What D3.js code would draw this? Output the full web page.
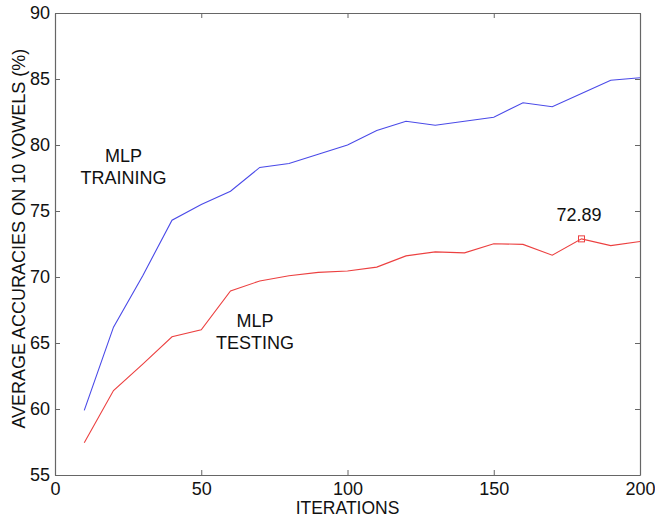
<!DOCTYPE html>
<meta charset="utf-8">
<style>
body { margin: 0; background: #fff; }
text { font-family: "Liberation Sans", Arial, sans-serif; fill: #111; }
.axis path, .axis line { stroke: #666; }
</style>
<svg width="655" height="518"></svg>
<script src="https://d3js.org/d3.v7.min.js"></script>
<script>

// Data
var iterations = [10, 20, 30, 40, 50, 60, 70, 80, 90, 100, 110, 120, 130, 140, 150, 160, 170, 180, 190, 200];
var training = [59.9, 66.2, 70.1, 74.3, 75.5, 76.5, 78.3, 78.6, 79.3, 80.0, 81.1, 81.8, 81.5, 81.8, 82.1, 83.2, 82.9, 83.9, 84.9, 85.1];
var testing = [57.45, 61.4, 63.4, 65.47, 66.0, 68.95, 69.7, 70.1, 70.35, 70.45, 70.75, 71.6, 71.9, 71.83, 72.52, 72.47, 71.65, 72.89, 72.38, 72.69];
var xTicks = [0, 50, 100, 150, 200];
var yTicks = [55, 60, 65, 70, 75, 80, 85, 90];
var peakIndex = 17;

var svg = d3.select("svg"),
    margin = {top: 13, right: 15, bottom: 43, left: 55},
    width = 655 - margin.left - margin.right,
    height = 518 - margin.top - margin.bottom;

var fs = 18;

var x = d3.scaleLinear().domain([0, 200]).range([margin.left, margin.left + width]);
var y = d3.scaleLinear().domain([55, 90]).range([margin.top + height, margin.top]);

// Box with inward ticks on all four sides
svg.append("g").attr("class", "axis")
    .attr("transform", "translate(0," + y(55) + ")")
    .call(d3.axisBottom(x).tickValues(xTicks).tickSize(-5).tickPadding(7).tickSizeOuter(0))
    .call(function(g) { g.selectAll("text").attr("font-size", fs).attr("dy", "0.7em"); });

svg.append("g").attr("class", "axis")
    .attr("transform", "translate(0," + y(90) + ")")
    .call(d3.axisTop(x).tickValues(xTicks).tickSize(-5).tickFormat("").tickSizeOuter(0))
    .call(function(g) { g.select(".domain").attr("stroke", "#999"); });

svg.append("g").attr("class", "axis")
    .attr("transform", "translate(" + x(0) + ",0)")
    .call(d3.axisLeft(y).tickValues(yTicks).tickSize(-5).tickPadding(5).tickSizeOuter(0))
    .call(function(g) { g.selectAll("text").attr("font-size", fs); });

svg.append("g").attr("class", "axis")
    .attr("transform", "translate(" + x(200) + ",0)")
    .call(d3.axisRight(y).tickValues(yTicks).tickSize(-5).tickFormat("").tickSizeOuter(0));

svg.selectAll(".axis .domain").attr("stroke-width", 1.2);

var line = d3.line()
    .x(function(d, i) { return x(iterations[i]); })
    .y(function(d) { return y(d); });

svg.append("path")
    .datum(training)
    .attr("fill", "none")
    .attr("stroke", "#4a4ae8")
    .attr("stroke-width", 1.1)
    .attr("d", line);

svg.append("path")
    .datum(testing)
    .attr("fill", "none")
    .attr("stroke", "#ec4040")
    .attr("stroke-width", 1.1)
    .attr("d", line);

// Peak marker
svg.append("rect")
    .attr("x", x(iterations[peakIndex]) - 3)
    .attr("y", y(testing[peakIndex]) - 3)
    .attr("width", 6)
    .attr("height", 6)
    .attr("fill", "none")
    .attr("stroke", "#ec4040")
    .attr("stroke-width", 1);

svg.append("text")
    .attr("x", x(iterations[peakIndex]) - 2.5)
    .attr("y", y(testing[peakIndex]) - 18)
    .attr("text-anchor", "middle")
    .attr("font-size", fs)
    .text(testing[peakIndex].toFixed(2));

// Series labels
function label(cx, cy, lines) {
  var t = svg.append("text")
      .attr("text-anchor", "middle")
      .attr("font-size", fs);
  lines.forEach(function(s, i) {
    t.append("tspan").attr("x", cx).attr("y", cy + i * 22).text(s);
  });
}
label(x(23.4), y(78.7), ["MLP", "TRAINING"]);
label(x(68.4), y(66.2), ["MLP", "TESTING"]);

// Axis titles
svg.append("text")
    .attr("x", x(100))
    .attr("y", 514)
    .attr("text-anchor", "middle")
    .attr("font-size", 17.5)
    .text("ITERATIONS");

svg.append("text")
    .attr("transform", "translate(25," + y(72.9) + ") rotate(-90)")
    .attr("text-anchor", "middle")
    .attr("font-size", fs)
    .text("AVERAGE ACCURACIES ON 10 VOWELS (%)");

</script>
